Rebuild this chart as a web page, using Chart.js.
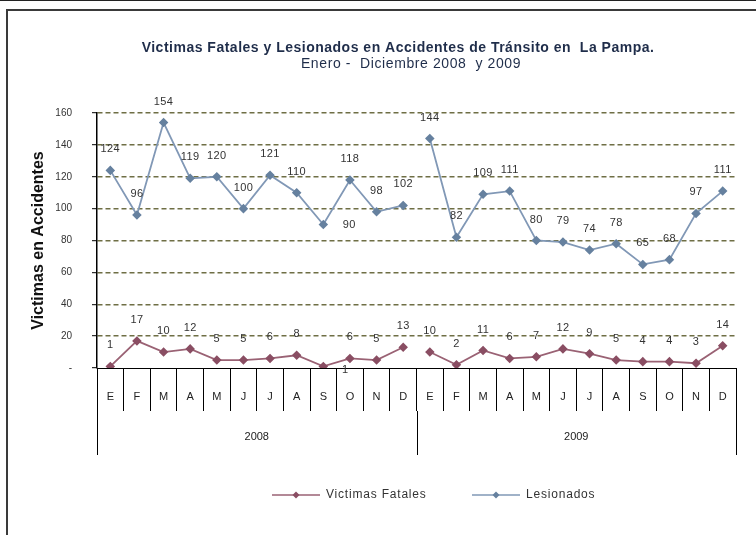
<!DOCTYPE html>
<html><head><meta charset="utf-8">
<script src="https://cdn.jsdelivr.net/npm/chart.js@4.4.1/dist/chart.umd.min.js"></script>
<style>
html,body{margin:0;padding:0;background:#fff;}
#wrap{position:relative;width:756px;height:535px;overflow:hidden;background:#fff;}
#c{position:absolute;left:0;top:0;}
#topline{position:absolute;left:0;top:0;width:756px;height:1px;background:#222;}
#frame{position:absolute;left:6px;top:9px;width:800px;height:600px;border-top:2px solid #3a3a3a;border-left:2px solid #3a3a3a;pointer-events:none;}
</style></head><body>
<div id="wrap"><canvas id="c" width="756" height="535"></canvas><div id="topline"></div><div id="frame"></div></div>
<script>
// ---- data ----
const months = ['E','F','M','A','M','J','J','A','S','O','N','D'];
const years = ['2008','2009'];
const categories = months.concat(months);
const victimasFatales = [1,17,10,12,5,5,6,8,1,6,5,13, 10,2,11,6,7,12,9,5,4,4,3,14];
const lesionados = [124,96,154,119,120,100,121,110,90,118,98,102, 144,82,109,111,80,79,74,78,65,68,97,111];
const yMin = 0, yMax = 160, yStep = 20;
const titleLine1 = 'Victimas Fatales y Lesionados en Accidentes de Tránsito en  La Pampa.';
const titleLine2 = 'Enero -  Diciembre 2008  y 2009';
const yAxisTitle = 'Victimas en Accidentes';
const seriesNames = ['Victimas Fatales', 'Lesionados'];

// ---- styles ----
const colFat = '#9a6274', colFatPt = '#8a4e63';
const colLes = '#8198b6', colLesPt = '#66819f';
const FONT = "'Liberation Sans', Arial, sans-serif";
const yearBreak = months.length - 1; // hide segment between years

function segColor(c){ return ctx => ctx.p0DataIndex === yearBreak ? 'rgba(0,0,0,0)' : c; }

const labelsPlugin = {
  id: 'labelsPlugin',
  afterDatasetsDraw(chart){
    const ctx = chart.ctx;
    ctx.save();
    ctx.font = '11px ' + FONT;
    ctx.letterSpacing = '0.4px';
    ctx.fillStyle = '#333';
    ctx.textAlign = 'center';
    ctx.textBaseline = 'middle';
    chart.data.datasets.forEach((ds, di) => {
      const meta = chart.getDatasetMeta(di);
      meta.data.forEach((pt, j) => {
        let dx = 0, dy = -21;
        if (j === 8) { dx = di === 0 ? 22 : 26; dy = di === 0 ? 4 : 0; }
        ctx.fillText(String(ds.data[j]), pt.x + dx, pt.y + dy);
      });
    });
    ctx.restore();
  },
  afterDraw(chart){
    const ctx = chart.ctx;
    const x = chart.scales.x;
    const area = chart.chartArea;
    ctx.save();
    // title
    ctx.fillStyle = '#1f2d4a';
    ctx.textAlign = 'center';
    ctx.textBaseline = 'middle';
    ctx.font = 'bold 14px ' + FONT;
    ctx.letterSpacing = '0.5px';
    ctx.fillText(titleLine1, 398, 48);
    ctx.font = '14px ' + FONT;
    ctx.letterSpacing = '0.6px';
    ctx.fillText(titleLine2, 411, 64);
    ctx.letterSpacing = '0px';
    // year separators and labels
    const n = months.length;
    const half = (x.getPixelForValue(1) - x.getPixelForValue(0)) / 2;
    const y0 = area.bottom + 43, y1 = area.bottom + 87;
    ctx.strokeStyle = '#000';
    ctx.lineWidth = 1;
    ctx.beginPath();
    for (let k = 0; k <= years.length; k++) {
      let px;
      if (k === 0) px = x.getPixelForValue(0) - half;
      else px = x.getPixelForValue(k * n - 1) + half;
      px = Math.round(px) + 0.5;
      ctx.moveTo(px, y0); ctx.lineTo(px, y1);
    }
    ctx.stroke();
    ctx.fillStyle = '#222';
    ctx.font = '11px ' + FONT;
    years.forEach((yr, k) => {
      const a = x.getPixelForValue(k * n) - half;
      const b = x.getPixelForValue(k * n + n - 1) + half;
      ctx.fillText(yr, (a + b) / 2, area.bottom + 69);
    });
    // legend
    const ly = 495;
    const items = [
      {name: seriesNames[0], line: colFat, pt: colFatPt, x0: 272},
      {name: seriesNames[1], line: colLes, pt: colLesPt, x0: 472}
    ];
    items.forEach(it => {
      ctx.strokeStyle = it.line; ctx.lineWidth = 1.5;
      ctx.beginPath(); ctx.moveTo(it.x0, ly); ctx.lineTo(it.x0 + 48, ly); ctx.stroke();
      ctx.fillStyle = it.pt;
      const cx = it.x0 + 24, r = 3.5;
      ctx.beginPath(); ctx.moveTo(cx, ly - r); ctx.lineTo(cx + r, ly); ctx.lineTo(cx, ly + r); ctx.lineTo(cx - r, ly); ctx.closePath(); ctx.fill();
      ctx.fillStyle = '#333'; ctx.textAlign = 'left'; ctx.font = '12px ' + FONT;
      ctx.letterSpacing = '0.8px';
      ctx.fillText(it.name, it.x0 + 54, ly);
      ctx.letterSpacing = '0px';
    });
    ctx.restore();
  }
};

new Chart(document.getElementById('c'), {
  type: 'line',
  data: {
    labels: categories,
    datasets: [
      { label: seriesNames[0], data: victimasFatales, borderColor: colFat, backgroundColor: colFatPt,
        pointBackgroundColor: colFatPt, pointBorderColor: colFatPt, pointStyle: 'rectRot', pointRadius: 3.5,
        borderWidth: 1.8, tension: 0, segment: { borderColor: segColor(colFat) } },
      { label: seriesNames[1], data: lesionados, borderColor: colLes, backgroundColor: colLesPt,
        pointBackgroundColor: colLesPt, pointBorderColor: colLesPt, pointStyle: 'rectRot', pointRadius: 3.5,
        borderWidth: 1.8, tension: 0, segment: { borderColor: segColor(colLes) } }
    ]
  },
  options: {
    responsive: false,
    animation: false,
    events: [],
    layout: { padding: { top: 113, right: 20, bottom: 0, left: 0 } },
    plugins: { legend: { display: false }, title: { display: false }, tooltip: { enabled: false } },
    scales: {
      x: {
        type: 'category',
        offset: true,
        afterFit: s => { s.height = 167; },
        grid: { display: true, drawOnChartArea: false, offset: true, color: '#000', tickLength: 43, lineWidth: 1 },
        border: { display: true, color: '#000', width: 1 },
        ticks: { font: { family: FONT, size: 11 }, color: '#222', padding: -21, maxRotation: 0, autoSkip: false }
      },
      y: {
        min: yMin, max: yMax,
        afterFit: s => { s.width = 97; },
        ticks: { stepSize: yStep, font: { family: FONT, size: 10 }, color: '#333', padding: 20,
          callback: v => v === 0 ? '-' : v },
        grid: { color: c => (c.tick && c.tick.value === 0) ? 'rgba(0,0,0,0)' : '#6f6f45', lineWidth: 1.4,
          tickLength: 5, tickColor: '#000', tickWidth: 1 },
        border: { display: true, color: '#000', width: 1.5, dash: [5, 3] },
        title: { display: true, text: yAxisTitle, color: '#111', font: { family: FONT, size: 16, weight: 'bold' },
          padding: { top: 29, bottom: 0 } }
      }
    }
  },
  plugins: [labelsPlugin]
});
</script>
</body></html>
